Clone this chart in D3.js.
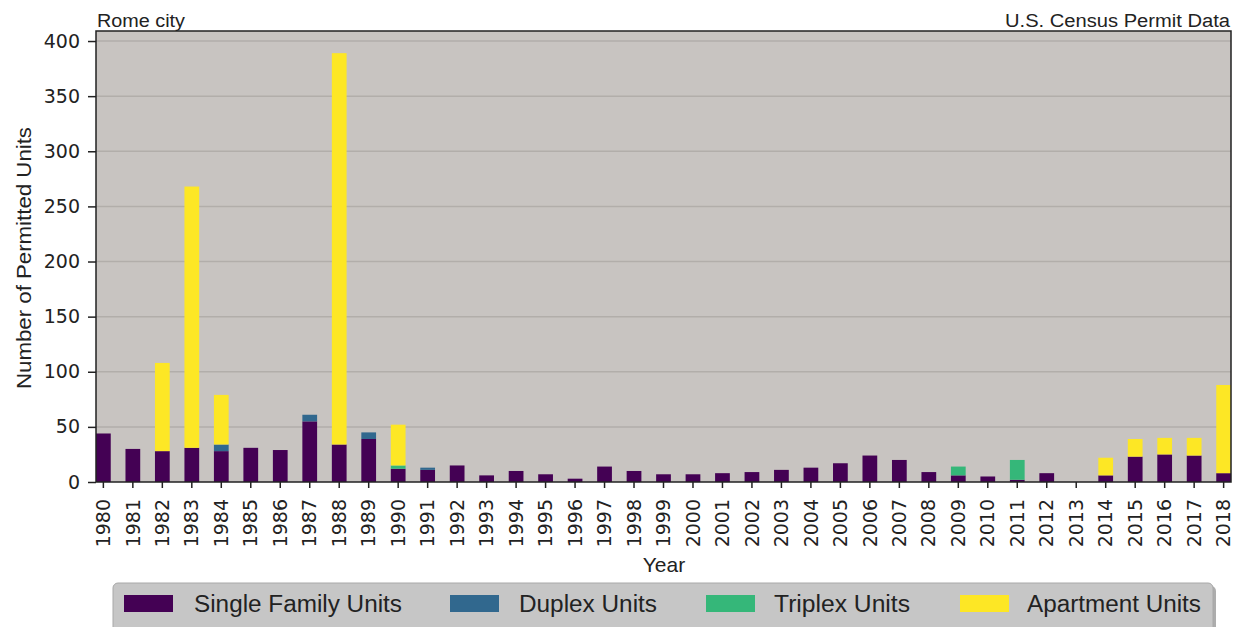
<!DOCTYPE html>
<html>
<head>
<meta charset="utf-8">
<script src="https://cdn.jsdelivr.net/npm/d3@7"></script>
<style>
  html, body { margin: 0; padding: 0; background: #ffffff; }
  svg { display: block; }
</style>
</head>
<body>
<svg id="chart" width="1242" height="627"></svg>
<script>
// ---- data ----
const years = d3.range(1980, 2019).map(String);
const singleFamily = [44,30,28,31,28,31,29,55,34,39,12,11,15,
                      6,10,7,3,14,10,7,7,8,9,11,13,17,
                      24,20,9,6,5,2,8,0,6,23,25,24,8];
const duplex = [0,0,0,0,6,0,0,6,0,6,0,2,0,
                0,0,0,0,0,0,0,0,0,0,0,0,0,
                0,0,0,0,0,0,0,0,0,0,0,0,0];
const triplex = [0,0,0,0,0,0,0,0,0,0,3,0,0,
                 0,0,0,0,0,0,0,0,0,0,0,0,0,
                 0,0,0,8,0,18,0,0,0,0,0,0,0];
const apartment = [0,0,80,237,45,0,0,0,355,0,37,0,0,
                   0,0,0,0,0,0,0,0,0,0,0,0,0,
                   0,0,0,0,0,0,0,0,16,16,15,16,80];
const seriesNames = ["Single Family Units","Duplex Units","Triplex Units","Apartment Units"];
const seriesKeys = ["single","duplex","triplex","apartment"];
const seriesColors = ["#440154","#31688e","#35b779","#fde725"];
const yTicks = [0,50,100,150,200,250,300,350,400];

(function () {
// ---- layout ----
const pLeft = 96, pRight = 1231, pTop = 31, pBottom = 482;
const svg = d3.select("#chart");

const table = years.map((y, i) => ({
  year: y, single: singleFamily[i], duplex: duplex[i], triplex: triplex[i], apartment: apartment[i]
}));
const stacked = d3.stack().keys(seriesKeys)(table);

const x = d3.scaleBand().domain(years).range([pLeft, pRight]).paddingInner(0.5).paddingOuter(0);
const y = d3.scaleLinear().domain([0, 409.1]).range([pBottom, pTop]);

// plot background
svg.append("rect").attr("x", pLeft).attr("y", pTop).attr("width", pRight - pLeft).attr("height", pBottom - pTop)
  .attr("fill", "#c8c4c1");

// grid
svg.append("g").selectAll("line").data(yTicks.filter(d => d > 0)).join("line")
  .attr("x1", pLeft).attr("x2", pRight)
  .attr("y1", d => y(d)).attr("y2", d => y(d))
  .attr("stroke", "#b2aeaa").attr("stroke-width", 1.5);

// bars
svg.append("g").selectAll("g").data(stacked).join("g")
  .attr("fill", (d, i) => seriesColors[i])
  .selectAll("rect").data(d => d).join("rect")
  .attr("x", d => x(d.data.year))
  .attr("width", x.bandwidth())
  .attr("y", d => y(d[1]))
  .attr("height", d => Math.max(0, y(d[0]) - y(d[1])));

// frame
svg.append("rect").attr("x", pLeft).attr("y", pTop).attr("width", pRight - pLeft).attr("height", pBottom - pTop)
  .attr("fill", "none").attr("stroke", "#222").attr("stroke-width", 1.5);

// y axis
const yAxis = d3.axisLeft(y).tickValues(yTicks).tickSize(8).tickPadding(8);
const gy = svg.append("g").attr("transform", `translate(${pLeft},0)`).call(yAxis);
gy.select(".domain").remove();
gy.selectAll(".tick line").attr("stroke", "#222").attr("stroke-width", 1.5);
gy.selectAll(".tick text").attr("font-family", "DejaVu Sans").attr("font-size", 19).attr("fill", "#222");

// x axis
const xAxis = d3.axisBottom(x).tickSize(6).tickPadding(6);
const gx = svg.append("g").attr("transform", `translate(0,${pBottom})`).call(xAxis);
gx.select(".domain").remove();
gx.selectAll(".tick line").attr("stroke", "#222").attr("stroke-width", 1.5);
gx.selectAll(".tick text")
  .attr("font-family", "DejaVu Sans").attr("font-size", 19).attr("fill", "#222")
  .attr("transform", "rotate(-90)")
  .attr("text-anchor", "end")
  .attr("x", -17).attr("y", 0).attr("dy", "0.35em");

// titles
svg.append("text").attr("x", 97).attr("y", 27).text("Rome city")
  .attr("font-family", "Liberation Sans").attr("font-size", 18).attr("fill", "#222")
  .attr("textLength", 88).attr("lengthAdjust", "spacingAndGlyphs");
svg.append("text").attr("x", 1230).attr("y", 27).attr("text-anchor", "end").text("U.S. Census Permit Data")
  .attr("font-family", "Liberation Sans").attr("font-size", 18).attr("fill", "#222")
  .attr("textLength", 225).attr("lengthAdjust", "spacingAndGlyphs");

// axis labels
svg.append("text").attr("transform", "translate(31,258) rotate(-90)").attr("text-anchor", "middle")
  .text("Number of Permitted Units")
  .attr("font-family", "Liberation Sans").attr("font-size", 20).attr("fill", "#222")
  .attr("textLength", 262).attr("lengthAdjust", "spacingAndGlyphs");
svg.append("text").attr("x", 664).attr("y", 572).attr("text-anchor", "middle").text("Year")
  .attr("font-family", "Liberation Sans").attr("font-size", 21).attr("fill", "#222");

// legend
const lg = svg.append("g");
lg.append("rect").attr("x", 116).attr("y", 586).attr("width", 1100).attr("height", 50).attr("rx", 5)
  .attr("fill", "#8a8a8a").attr("opacity", 0.7);
lg.append("rect").attr("x", 113).attr("y", 583).attr("width", 1100).attr("height", 50).attr("rx", 5)
  .attr("fill", "#c6c6c6").attr("stroke", "#a8a8a8").attr("stroke-width", 1);
const swatchX = [124, 450, 706, 960];
const textX = [194, 519, 774, 1027];
const textW = [208, 138, 136, 174];
seriesNames.forEach((name, i) => {
  lg.append("rect").attr("x", swatchX[i]).attr("y", 595).attr("width", 49).attr("height", 17)
    .attr("fill", seriesColors[i]);
  lg.append("text").attr("x", textX[i]).attr("y", 612).text(name)
    .attr("font-family", "Liberation Sans").attr("font-size", 23).attr("fill", "#222")
    .attr("textLength", textW[i]).attr("lengthAdjust", "spacingAndGlyphs");
});
})();
</script>
</body>
</html>
